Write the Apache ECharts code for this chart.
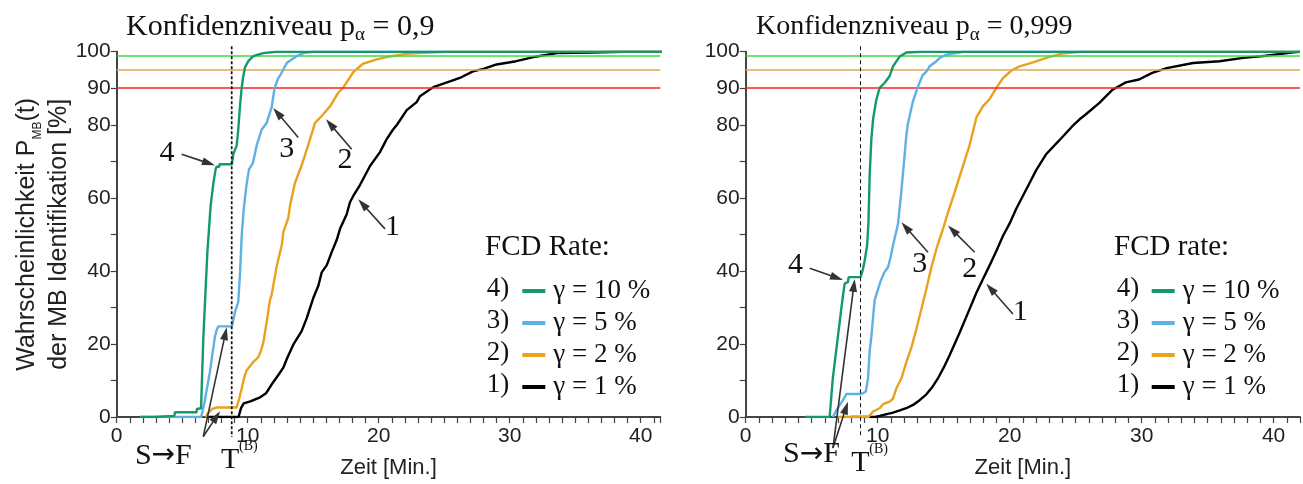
<!DOCTYPE html>
<html><head><meta charset="utf-8">
<script src="https://cdn.jsdelivr.net/npm/echarts/dist/echarts.min.js"></script>
<style>html,body{margin:0;padding:0;background:#fff}#c{width:1303px;height:484px}</style>
</head><body><div id="c"></div>
<script>
// ---------- data (time in min, probability in %) ----------
const legendNames = ['γ = 10 %', 'γ = 5 %', 'γ = 2 %', 'γ = 1 %'];
const legendPrefixes = ['4)', '3)', '2)', '1)'];
const titles = ['Konfidenzniveau p', 'Konfidenzniveau p'];
const titleValues = [' = 0,9', ' = 0,999'];
const legendTitles = ['FCD Rate:', 'FCD rate:'];
const yLabelValues = [0, 20, 40, 60, 80, 90, 100];
const refLevels = [99, 95, 90];
const T_B = [8.78, 8.7];

// left panel: p_alpha = 0.9
const L4 = [[1.8,0],[2.8,0],[2.8,0.3],[4.4,0.3],[4.45,1.3],[6.1,1.3],[6.12,2.2],[6.44,2.4],[6.61,21.4],[6.92,45],[7.17,57.8],[7.38,64],[7.55,67.8],[7.63,68.5],[7.83,68.5],[7.85,69.2],[8.8,69.2],[8.9,72],[9.16,74.3],[9.28,78.7],[9.41,85],[9.54,90],[9.65,93],[9.8,95.8],[10.05,97.4],[10.4,98.7],[10.7,99.1],[11.2,99.6],[12.2,100],[42,100]];
const L3 = [[1.8,0],[6.45,0],[6.7,4],[6.9,8],[7.12,12.4],[7.3,17],[7.5,22],[7.63,23.8],[7.75,24.8],[8.8,24.8],[9.03,28.7],[9.28,31.5],[9.41,39],[9.55,50],[9.7,57],[9.9,63.3],[10.1,67.8],[10.4,69.5],[10.7,74.5],[11.07,78.7],[11.45,80.5],[11.83,84.8],[12.05,90],[12.3,92.5],[12.6,94.3],[13.0,97],[13.7,98.7],[14.25,99.6],[15,100],[42,100]];
const L2 = [[6.8,0],[7.0,1.2],[7.3,2.2],[7.6,2.6],[9.15,2.6],[9.35,5],[9.54,7.8],[9.75,11],[9.92,12.8],[10.2,14],[10.43,15.1],[10.8,16.3],[11.0,18],[11.2,20.5],[11.45,26],[11.7,32],[11.83,33.5],[12.2,41],[12.6,47],[12.72,50.6],[13.1,54.5],[13.23,57.8],[13.6,64],[14.1,68.7],[14.6,74.2],[15.14,80.5],[15.65,82.4],[16.3,85.1],[16.9,88.7],[17.3,90.2],[18.06,94.4],[18.8,96.7],[19.85,97.9],[20.86,98.7],[22.1,99.4],[23.9,99.8],[25.4,100],[42,100]];
const L1 = [[7.0,0],[9.3,0],[9.5,2.5],[9.7,3.7],[10.2,4.3],[10.9,5.3],[11.4,6.5],[11.96,9.6],[12.34,11.5],[12.72,13.5],[13.0,16],[13.48,19.8],[14.12,23.5],[14.5,27],[15.0,32.5],[15.4,36],[15.65,39.6],[16.03,41.5],[16.4,45],[16.8,48.5],[17.05,51.5],[17.56,55.5],[17.8,58.7],[18.06,60.5],[18.57,63.5],[19.34,68.7],[20.1,72.5],[20.6,76],[21.1,78.7],[21.4,80],[22.14,84],[22.9,86.2],[23.15,87.8],[24.17,90.3],[25.44,91.9],[26.3,93],[27.2,94.6],[28.0,95.3],[29.0,96.5],[30.5,97.4],[32.06,98.7],[33.6,99.6],[36.1,99.8],[38.7,100],[42,100]];

// right panel: p_alpha = 0.999
const R4 = [[4.5,0],[6.36,0],[6.6,10.6],[7.0,22.4],[7.37,33.3],[7.5,36.5],[7.75,37],[7.8,38.3],[8.7,38.3],[8.85,40],[9.0,42.5],[9.2,47],[9.3,53],[9.39,66],[9.52,76],[9.65,81.5],[9.9,86.9],[10.15,90.1],[10.53,91.5],[10.9,93.3],[11.16,96],[11.67,98.7],[12.17,99.8],[13.3,100],[42,100]];
const R3 = [[6.6,0],[6.9,2],[7.37,4.6],[7.63,6.3],[8.76,6.3],[9.1,6.9],[9.27,10.6],[9.39,18],[9.52,22],[9.77,32],[9.9,33.5],[10.2,37],[10.5,39.6],[10.78,41],[11.0,44],[11.16,47],[11.54,52.8],[11.8,62],[11.92,66.9],[12.05,72],[12.17,77],[12.3,80.5],[12.68,86.5],[13.06,90.5],[13.4,93.5],[13.7,94.6],[13.94,96],[14.45,97.4],[14.7,98.3],[15.2,99.2],[15.7,99.5],[16.5,100],[42,100]];
const R2 = [[7.0,0],[9.3,0],[9.65,1.5],[10.15,2.4],[10.4,3.5],[10.9,4.2],[11.16,5],[11.41,7.8],[11.8,10.6],[12.17,15],[12.55,19],[12.93,24],[13.31,29.5],[13.69,35.1],[14.07,41],[14.45,46],[14.95,51.5],[15.33,56],[15.83,61.5],[16.46,68.7],[16.97,74.5],[17.48,82],[17.98,85.1],[18.48,87],[18.99,90.1],[19.5,92.8],[20.2,95],[20.76,96],[21.77,97.1],[22.78,98.3],[24.0,99.5],[25.5,100],[42,100]];
const R1 = [[8.0,0],[9.8,0],[10.15,0.3],[11.16,1.2],[11.67,1.8],[12.17,2.4],[12.68,3.3],[13.18,4.6],[13.69,6.2],[14.1,8],[14.6,10.8],[15.0,13.5],[15.45,16.9],[16.2,23],[16.97,29.6],[17.48,34],[17.98,37.8],[18.48,41.5],[19.0,45.5],[19.5,49.6],[20.0,53],[20.5,57],[21.0,60.5],[21.5,64],[22.0,67.5],[22.78,72],[23.7,75.5],[24.75,79.6],[25.3,81.5],[25.76,82.8],[26.8,86],[27.8,89.6],[28.8,91.6],[29.8,92.4],[30.8,94.2],[31.9,95.5],[33.9,96.9],[35.9,97.4],[37.7,98.3],[39.4,98.9],[41.5,99.8],[42,100]];

// annotation anchors (data space)
const L_labels = [['4',[3.84,72.2]],['3',[12.98,73.3]],['2',[17.43,70.3]],['1',[21.05,52]]];
const L_arrows = [[[4.96,71.9],[7.5,68.9]],[[13.86,76.5],[11.95,84.6]],[[17.94,73.3],[15.98,81.5]],[[20.48,51.5],[18.44,59.6]],[[6.61,-5.35],[8.4,24.6]],[[6.61,-5.35],[7.89,1.6]]];
const L_SF = [3.56,-10.6];
const L_T = [7.97,-11.9];
const R_labels = [['4',[3.77,41.7]],['3',[13.18,41.9]],['2',[16.97,40.5]],['1',[20.8,28.7]]];
const R_arrows = [[[4.85,40.7],[7.37,37.5]],[[13.81,45.1],[11.8,53.3]],[[17.35,45.1],[15.33,52.4]],[[20.25,28.2],[18.23,36.5]],[[6.61,-8.5],[8.26,37.8]],[[6.61,-8.5],[7.75,4.2]]];
const R_SF = [4.98,-10.2];
const R_T = [8.0,-12.6];

// ---------- styling ----------
const SERIF = '"Liberation Serif", "Times New Roman", serif';
const SANS = '"Liberation Sans", Arial, sans-serif';
const colors = ['#14996f', '#5fb0e3', '#e8a21d', '#000000'];
const refColors = ['#3fd83f', '#e2a656', '#ff1f1f'];
const panels = [
  {left: 116.7, width: 543.6, xmax: 41.5, data: [L4, L3, L2, L1], labels: L_labels, arrows: L_arrows, sf: L_SF, t: L_T, dash: [3, 2], dashW: 1.7,
   legLeft: 517.3, preLeft: 486.7, titleLeft: 485, mainTitleLeft: 121, titleSize: 30},
  {left: 745.7, width: 554.4, xmax: 42, data: [R4, R3, R2, R1], labels: R_labels, arrows: R_arrows, sf: R_SF, t: R_T, dash: [4, 3], dashW: 1,
   legLeft: 1146.7, preLeft: 1116.7, titleLeft: 1114, mainTitleLeft: 751, titleSize: 28}
];
const TOP = 51.7, H = 367;

const chart = echarts.init(document.getElementById('c'), null, {renderer: 'canvas'});
const grid = [], xAxis = [], yAxis = [], series = [], title = [], legend = [];

panels.forEach((p, i) => {
  grid.push({left: p.left, top: TOP, width: p.width, height: H, containLabel: false});
  xAxis.push({
    type: 'value', gridIndex: i, min: 0, max: p.xmax, interval: 1,
    axisLine: {show: true, onZero: false, lineStyle: {color: '#444', width: 2}},
    axisTick: {show: true, length: 6, lineStyle: {color: '#444', width: 1.2}},
    axisLabel: {formatter: v => (v % 10 === 0 ? String(v) : ''), fontFamily: SANS, fontSize: 21, color: '#222', margin: 9},
    splitLine: {show: false},
    name: 'Zeit [Min.]', nameLocation: 'middle', nameGap: 40,
    nameTextStyle: {fontFamily: SANS, fontSize: 22, color: '#222'}
  });
  const ya = {
    type: 'value', gridIndex: i, min: 0, max: 100, interval: 10,
    axisLine: {show: true, lineStyle: {color: '#444', width: 2}},
    axisTick: {show: true, length: 6, lineStyle: {color: '#444', width: 1.2}},
    axisLabel: {formatter: v => (yLabelValues.includes(v) ? String(v) : ''), fontFamily: SANS, fontSize: 21, color: '#222', margin: 6},
    splitLine: {show: false}
  };
  if (i === 0) {
    Object.assign(ya, {
      name: '{a|Wahrscheinlichkeit P}{s|MB}{a|(t)}\n{a|der MB Identifikation [%]}',
      nameLocation: 'middle', nameGap: 36, nameRotate: 90,
      nameTextStyle: {
        fontFamily: SANS, fontSize: 25, color: '#222',
        rich: {
          a: {fontFamily: SANS, fontSize: 25, color: '#222', lineHeight: 32},
          s: {fontFamily: SANS, fontSize: 12, color: '#222', lineHeight: 22, verticalAlign: 'bottom'}
        }
      }
    });
  }
  yAxis.push(ya);

  title.push({
    left: p.mainTitleLeft, top: 4,
    text: '{a|' + titles[i] + '}{s|α}{a|' + titleValues[i] + '}',
    textStyle: {fontWeight: 'normal', rich: {
      a: {fontFamily: SERIF, fontSize: p.titleSize, fontWeight: 'normal', color: '#111', lineHeight: 36},
      s: {fontFamily: SERIF, fontSize: 19, fontWeight: 'normal', color: '#111', lineHeight: 19, verticalAlign: 'bottom'}
    }}
  });

  // curves: draw 1 first, 4 last
  [3, 2, 1, 0].forEach(k => {
    series.push({
      type: 'line', name: legendNames[k], xAxisIndex: i, yAxisIndex: i,
      data: p.data[k], showSymbol: false, symbol: 'none', smooth: false,
      lineStyle: {color: colors[k], width: 2.4}, itemStyle: {color: colors[k]},
      z: 3 + (3 - k), silent: true
    });
  });

  // reference levels + curve number labels
  series.push({
    type: 'line', xAxisIndex: i, yAxisIndex: i, data: [], silent: true, z: 2,
    markLine: {
      silent: true, symbol: 'none', label: {show: false}, animation: false,
      data: refLevels.map((lv, j) => ({yAxis: lv, lineStyle: {color: refColors[j], width: 1.5, type: 'solid'}}))
    },
    markPoint: {
      silent: true, animation: false, symbol: 'circle', symbolSize: 0,
      label: {show: true, position: 'inside', color: '#111', fontFamily: SERIF, fontSize: 30},
      data: p.labels.map(l => ({coord: l[1], value: l[0], label: {formatter: l[0]}}))
    }
  });

  legend.push({
    left: p.legLeft, top: 271, orient: 'vertical', itemWidth: 23, itemHeight: 4, itemGap: 2,
    icon: 'rect', selectedMode: false, data: legendNames,
    textStyle: {fontFamily: SERIF, fontSize: 27, color: '#111', lineHeight: 30, padding: [0, 0, 0, 3]}
  });
});

chart.setOption({animation: false, backgroundColor: '#fff', title, grid, xAxis, yAxis, legend, series});

// ---------- annotations placed through the axes' own scales ----------
const graphic = [];
function arrow(gi, a, b) {
  const p0 = chart.convertToPixel({gridIndex: gi}, a);
  const p1 = chart.convertToPixel({gridIndex: gi}, b);
  const dx = p1[0] - p0[0], dy = p1[1] - p0[1];
  const len = Math.hypot(dx, dy), ux = dx / len, uy = dy / len;
  const L = 13, W = 8;
  const bx = p1[0] - ux * L, by = p1[1] - uy * L;
  graphic.push({type: 'line', silent: true, z: 50, shape: {x1: p0[0], y1: p0[1], x2: bx + ux * 2, y2: by + uy * 2}, style: {stroke: '#333', lineWidth: 1.6}});
  graphic.push({type: 'polygon', silent: true, z: 50, shape: {points: [[p1[0], p1[1]], [bx - uy * W / 2, by + ux * W / 2], [bx + uy * W / 2, by - ux * W / 2]]}, style: {fill: '#333'}});
}
panels.forEach((p, i) => {
  p.arrows.forEach(a => arrow(i, a[0], a[1]));
  const top = chart.convertToPixel({gridIndex: i}, [T_B[i], 101.5]);
  const bot = chart.convertToPixel({gridIndex: i}, [T_B[i], -5.5]);
  graphic.push({type: 'line', silent: true, z: 40, shape: {x1: top[0], y1: top[1], x2: bot[0], y2: bot[1]}, style: {stroke: '#111', lineWidth: p.dashW, lineDash: p.dash}});
  const sf = chart.convertToPixel({gridIndex: i}, p.sf);
  graphic.push({type: 'text', silent: true, z: 50, x: sf[0], y: sf[1], style: {
    text: '{a|S}{r|→}{a|F}', align: 'center', verticalAlign: 'middle', textAlign: 'center', textVerticalAlign: 'middle',
    rich: {a: {font: '30px ' + SERIF, fill: '#111', color: '#111'}, r: {font: '28px "DejaVu Sans"', fill: '#111', color: '#111'}}
  }});
  const tp = chart.convertToPixel({gridIndex: i}, p.t);
  graphic.push({type: 'text', silent: true, z: 50, x: tp[0], y: tp[1], style: {text: 'T', font: '30px ' + SERIF, fill: '#111', align: 'left', verticalAlign: 'middle', textAlign: 'left', textVerticalAlign: 'middle'}});
  graphic.push({type: 'text', silent: true, z: 50, x: tp[0] + 18, y: tp[1] - 14, style: {text: '(B)', font: '14px ' + SERIF, fill: '#111', align: 'left', verticalAlign: 'middle', textAlign: 'left', textVerticalAlign: 'middle'}});
  graphic.push({type: 'text', silent: true, left: p.titleLeft, top: 233, style: {text: legendTitles[i], font: '29px ' + SERIF, fill: '#111'}});
  legendPrefixes.forEach((pre, r) => {
    graphic.push({type: 'text', silent: true, left: p.preLeft, top: 275 + r * 32, style: {text: pre, font: '27px ' + SERIF, fill: '#111'}});
  });
});
chart.setOption({graphic});
</script></body></html>
